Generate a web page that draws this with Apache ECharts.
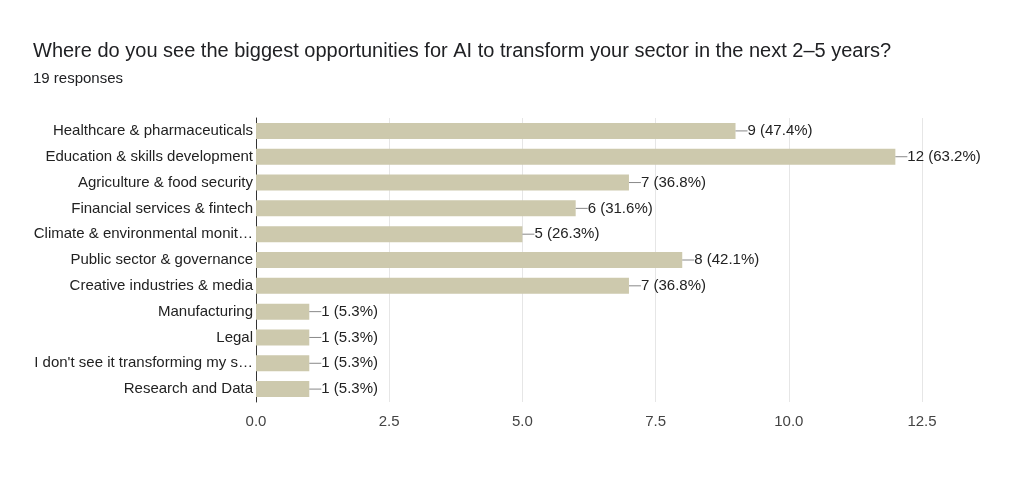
<!DOCTYPE html>
<html>
<head>
<meta charset="utf-8">
<script src="https://cdn.jsdelivr.net/npm/echarts@6/dist/echarts.min.js"></script>
<style>html,body{margin:0;padding:0;background:#fff}#c{width:1024px;height:486px}</style>
</head>
<body>
<div id="c"></div>
<script>
const categories = [
  'Healthcare & pharmaceuticals',
  'Education & skills development',
  'Agriculture & food security',
  'Financial services & fintech',
  'Climate & environmental monit…',
  'Public sector & governance',
  'Creative industries & media',
  'Manufacturing',
  'Legal',
  "I don't see it transforming my s…",
  'Research and Data'
];
const counts = [9, 12, 7, 6, 5, 8, 7, 1, 1, 1, 1];
const totalResponses = 19;

const font = 'Liberation Sans';
const chart = echarts.init(document.getElementById('c'));
chart.setOption({
  animation: false,
  title: {
    text: 'Where do you see the biggest opportunities for AI to transform your sector in the next 2–5 years?',
    subtext: totalResponses + ' responses',
    left: 28, top: 36,
    itemGap: 10,
    textStyle: { fontFamily: font, fontSize: 20, fontWeight: 'normal', color: '#202124' },
    subtextStyle: { fontFamily: font, fontSize: 15, color: '#202124' }
  },
  grid: { left: 256, right: 102, top: 118, bottom: 84 },
  xAxis: {
    type: 'value', min: 0, max: 12.5, interval: 2.5,
    axisLabel: { fontFamily: font, fontSize: 15, color: '#444', margin: 12,
      formatter: v => v.toFixed(1) },
    splitLine: { lineStyle: { color: '#e6e6e6' } },
    axisLine: { show: false }, axisTick: { show: false }
  },
  yAxis: {
    type: 'category', data: categories, inverse: true,
    axisLine: { lineStyle: { color: '#333' } },
    axisTick: { show: false },
    axisLabel: { fontFamily: font, fontSize: 15, color: '#222', margin: 3 }
  },
  series: [{
    type: 'bar',
    data: counts,
    barWidth: 16,
    itemStyle: { color: '#cdc9ad' },
    label: {
      show: true, position: 'right', distance: 0,
      formatter: p => '{l|}' + p.value + ' (' + (p.value / totalResponses * 100).toFixed(1) + '%)',
      fontFamily: font, fontSize: 15, color: '#222',
      rich: { l: { width: 12, height: 1, backgroundColor: '#888', padding: 0 } }
    }
  }]
});
</script>
</body>
</html>
